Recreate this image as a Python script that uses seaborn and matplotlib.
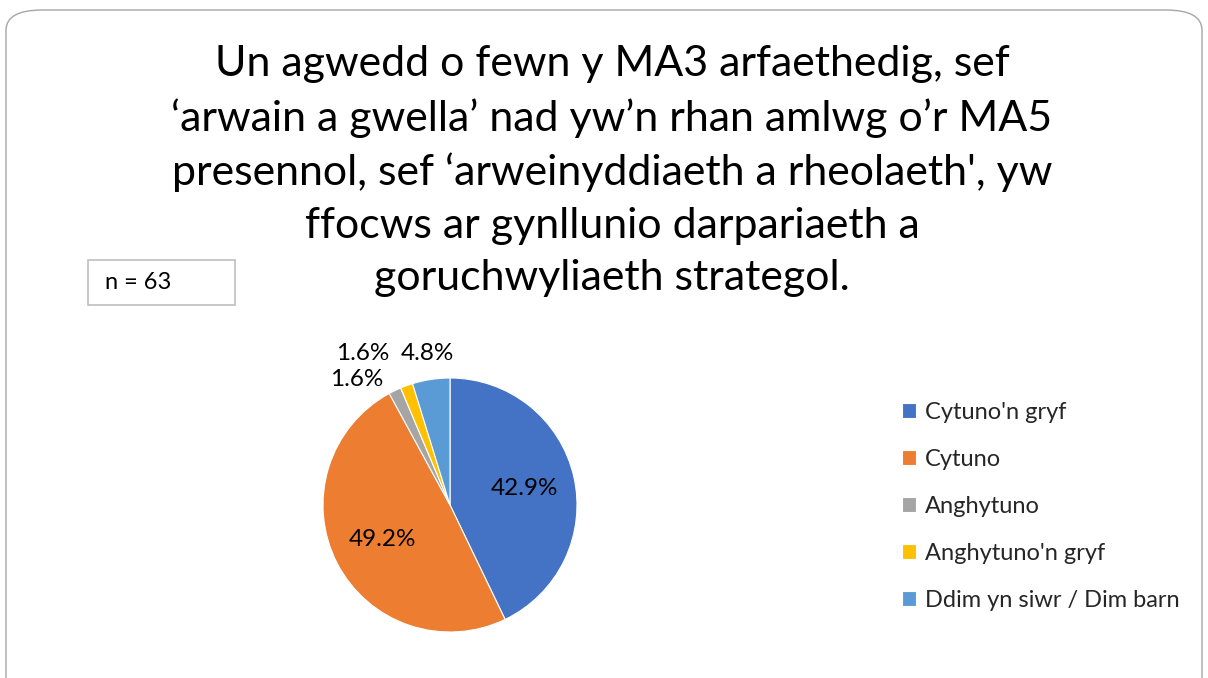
import matplotlib.pyplot as plt
from matplotlib.patches import FancyBboxPatch
import numpy as np
import seaborn as sns

# data
categories = ["Cytuno'n gryf", "Cytuno", "Anghytuno", "Anghytuno'n gryf", "Ddim yn siwr / Dim barn"]
counts = [27, 31, 1, 1, 3]
n_total = 63
title = ("Un agwedd o fewn y MA3 arfaethedig, sef\n"
         "‘arwain a gwella’ nad yw’n rhan amlwg o’r MA5\n"
         "presennol, sef ‘arweinyddiaeth a rheolaeth', yw\n"
         "ffocws ar gynllunio darpariaeth a\n"
         "goruchwyliaeth strategol.")
colors = ["#4472C4", "#ED7D31", "#A5A5A5", "#FFC000", "#5B9BD5"]

sns.set_theme(style="white")
plt.rcParams['font.family'] = ['Lato', 'DejaVu Sans']

W, H = 1208, 678
fig = plt.figure(figsize=(W / 100, H / 100), dpi=100)

# rounded border of the slide
border = FancyBboxPatch((6 / W, -40 / H), 1196 / W, (H + 40 - 10) / H,
                        boxstyle="round,pad=0,rounding_size=0.03",
                        transform=fig.transFigure, fill=False,
                        edgecolor="#A6A6A6", linewidth=1.0)
fig.patches.append(border)

fig.text(612 / W, 1 - 45 / H, title, ha="center", va="top",
         fontsize=30.9, color="black", linespacing=1.46)

# n box
fig.text(105 / W, 1 - 283 / H, f"n = {n_total}", ha="left", va="center",
         fontsize=17, color="black")
nbox = FancyBboxPatch((88 / W, 1 - 305 / H), 147 / W, 45 / H,
                      boxstyle="square,pad=0", transform=fig.transFigure,
                      fill=False, edgecolor="#BFBFBF", linewidth=1.2)
fig.patches.append(nbox)

# pie
r = 127
cx, cy = 450, 505
ax = fig.add_axes([(cx - r) / W, (H - cy - r) / H, 2 * r / W, 2 * r / H])
wedges, texts, autotexts = ax.pie(counts, colors=colors, startangle=90, counterclock=False,
                                  autopct="%.1f%%", pctdistance=0.6,
                                  wedgeprops=dict(edgecolor="white", linewidth=0.8),
                                  textprops=dict(fontsize=17.5, color="black"))
ax.set_xlim(-1, 1)
ax.set_ylim(-1, 1)
ax.set_aspect("auto")

# move small-slice labels outside (distance, angle offset in degrees)
outside = {2: (1.23, 11), 3: (1.38, 10), 4: (1.21, 0)}
for i, (d, off) in outside.items():
    w = wedges[i]
    ang = np.deg2rad((w.theta1 + w.theta2) / 2 + off)
    autotexts[i].set_position((d * np.cos(ang), d * np.sin(ang)))

# legend
leg = fig.legend(wedges, categories, loc="upper left",
                 bbox_to_anchor=(881 / W, 1 - 381 / H), frameon=False,
                 fontsize=17, handlelength=0.6, handleheight=0.6,
                 handletextpad=0.35, labelspacing=1.1)

fig.savefig("out.png", dpi=100)
